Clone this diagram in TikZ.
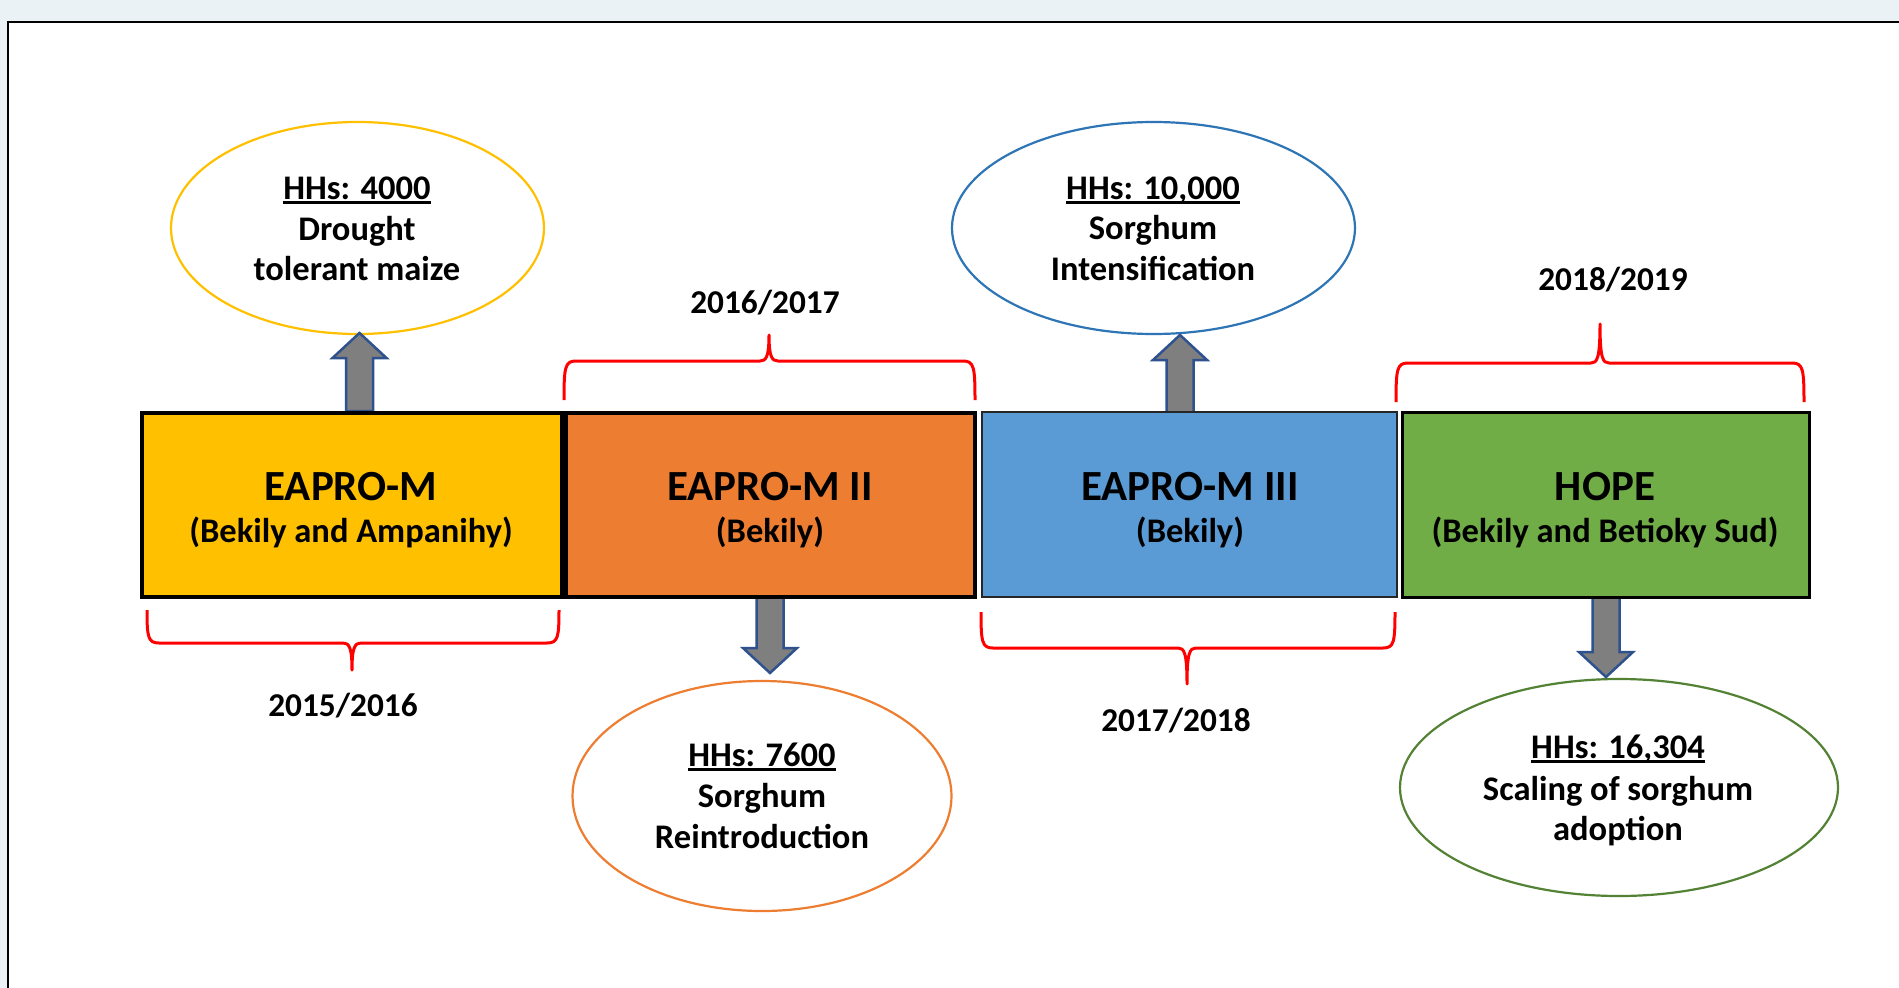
\documentclass[tikz,border=0pt]{standalone}
\usepackage{fontspec}
\setmainfont{Carlito}
\usetikzlibrary{shapes.geometric}
\definecolor{bgc}{HTML}{EAF2F5}
\definecolor{cyel}{HTML}{FFC000}
\definecolor{corg}{HTML}{ED7D31}
\definecolor{cblu}{HTML}{5B9BD5}
\definecolor{cgrn}{HTML}{70AD47}
\definecolor{eyel}{HTML}{FFC000}
\definecolor{eorg}{HTML}{ED7D31}
\definecolor{eblu}{HTML}{2E75B6}
\definecolor{egrn}{HTML}{548235}
\definecolor{arrfill}{HTML}{7F7F7F}
\definecolor{arrline}{HTML}{2F528F}
\tikzset{
  pbox/.style={draw=black, rectangle, inner sep=0pt, outer sep=0pt},
  pell/.style={draw, ellipse, line width=2.2pt, fill=white, inner sep=0pt},
  ttl/.style={anchor=base, inner sep=0pt, font=\fontsize{43}{50}\selectfont\bfseries},
  sub/.style={anchor=base, inner sep=0pt, font=\fontsize{34.5}{40}\selectfont\bfseries},
  etx/.style={anchor=base, inner sep=0pt, font=\fontsize{34.5}{40}\selectfont\bfseries},
  ytx/.style={anchor=base, inner sep=0pt, font=\fontsize{33.3}{40}\selectfont\bfseries},
  bracepath/.style={draw=red, line width=3pt, line join=round},
  blockarrow/.style={draw=arrline, fill=arrfill, line width=2.5pt, line join=miter}
}
\newcommand{\hhs}[1]{\setbox0\hbox{#1}\rlap{\rule[-4.5pt]{\wd0}{2.3pt}}\box0}
% brace: #1 xL, #2 xR, #3 end y, #4 horizontal y, #5 tip x, #6 tip y, #7 direction (+1 down, -1 up)
\newcommand{\mybrace}[7]{%
  \path[bracepath] (#1,#3) .. controls (#1,{#4-6*#7}) and ({#1+1},#4) .. ({#1+12},#4)
    -- ({#5-9},#4) .. controls ({#5-3},#4) and (#5,{#4+4*#7}) .. (#5,#6)
    .. controls (#5,{#4+4*#7}) and ({#5+3},#4) .. ({#5+9},#4)
    -- ({#2-12},#4) .. controls ({#2-1},#4) and (#2,{#4-6*#7}) .. (#2,#3);}
% block arrow: #1 cx, #2 tip y, #3 base y, #4 direction (+1 down, -1 up)
\newcommand{\myblockarrow}[4]{%
  \path[blockarrow] ({#1-13.5},#3) -- ({#1-13.5},{#2-25*#4}) -- ({#1-27},{#2-25*#4})
    -- (#1,#2) -- ({#1+27},{#2-25*#4}) -- ({#1+13.5},{#2-25*#4}) -- ({#1+13.5},#3) -- cycle;}
\begin{document}
\begin{tikzpicture}[x=1pt,y=-1pt]
\useasboundingbox (0,0) rectangle (1899,988);
\fill[bgc] (0,0) rectangle (1899,988);
\fill[white] (8,22) rectangle (1899,988);
\draw[line width=2.5pt] (8,988) -- (8,22) -- (1899,22);

% ellipses
\node (e1) [pell, draw=eyel, minimum width=373pt, minimum height=212pt] at (357.5,228) {};
\node (e2) [pell, draw=eorg, minimum width=379pt, minimum height=230pt] at (762,796) {};
\node (e3) [pell, draw=eblu, minimum width=403pt, minimum height=212pt] at (1153.5,228) {};
\node (e4) [pell, draw=egrn, minimum width=438pt, minimum height=217pt] at (1619,787.5) {};

% block arrows
\myblockarrow{359.5}{333}{411}{-1}
\myblockarrow{770}{673}{597}{1}
\myblockarrow{1180}{335}{414}{-1}
\myblockarrow{1606}{677}{597}{1}

% boxes
\node (b1) [pbox, fill=cyel, line width=4pt, minimum width=420pt, minimum height=184pt] at (352,505) {};
\node (b2) [pbox, fill=corg, line width=4pt, minimum width=409pt, minimum height=184pt] at (770.5,505) {};
\node (b3) [pbox, fill=cblu, draw=black!85, line width=2pt, minimum width=415pt, minimum height=185pt] at (1189.5,504.5) {};
\node (b4) [pbox, fill=cgrn, line width=3pt, minimum width=407pt, minimum height=185pt] at (1605.5,504.5) {};

\node (t1) [ttl] at (351,500) {EAPRO-M};
\node (s1) [sub] at (351,542) {(Bekily and Ampanihy)};
\node (t2) [ttl] at (770,500) {EAPRO-M II};
\node (s2) [sub] at (770,542) {(Bekily)};
\node (t3) [ttl] at (1190,500) {EAPRO-M III};
\node (s3) [sub] at (1190,542) {(Bekily)};
\node (t4) [ttl] at (1605,500) {HOPE};
\node (s4) [sub] at (1605,542) {(Bekily and Betioky Sud)};

% ellipse texts
\node (e1a) [etx] at (357,199) {\hhs{HHs: 4000}};
\node (e1b) [etx] at (357,240) {Drought};
\node (e1c) [etx] at (357,280) {tolerant maize};
\node (e2a) [etx] at (762,766) {\hhs{HHs: 7600}};
\node (e2b) [etx] at (762,807) {Sorghum};
\node (e2c) [etx] at (762,848) {Reintroduction};
\node (e3a) [etx] at (1153,199) {\hhs{HHs: 10,000}};
\node (e3b) [etx] at (1153,239) {Sorghum};
\node (e3c) [etx] at (1153,280) {Intensification};
\node (e4a) [etx] at (1618,758) {\hhs{HHs: 16,304}};
\node (e4b) [etx] at (1618,800) {Scaling of sorghum};
\node (e4c) [etx] at (1618,840) {adoption};

% braces
\mybrace{147}{559}{610}{643}{352}{670}{1}
\mybrace{564}{975}{400}{361}{769}{335}{-1}
\mybrace{981}{1395}{612}{648}{1187}{684}{1}
\mybrace{1396}{1804}{402}{363}{1600}{324}{-1}

% years
\node (y1) [ytx] at (343,716) {2015/2016};
\node (y2) [ytx] at (765,313) {2016/2017};
\node (y3) [ytx] at (1176,731) {2017/2018};
\node (y4) [ytx] at (1613,290) {2018/2019};
\end{tikzpicture}
\end{document}
